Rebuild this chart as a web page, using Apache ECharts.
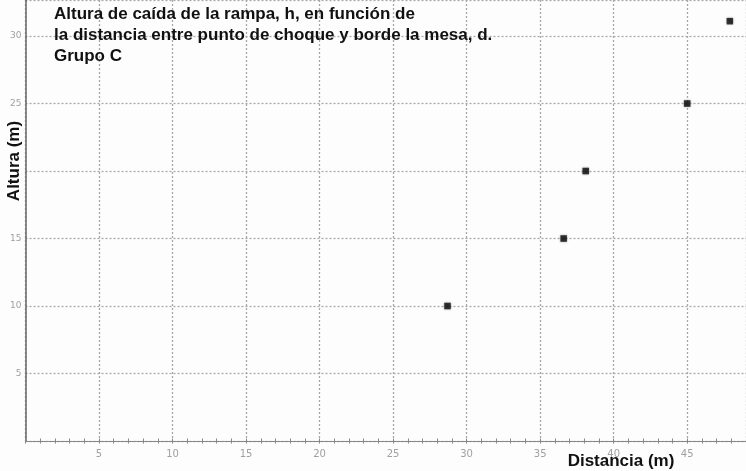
<!DOCTYPE html>
<html>
<head>
<meta charset="utf-8">
<script src="https://cdn.jsdelivr.net/npm/echarts@6/dist/echarts.min.js"></script>
<style>
html,body{margin:0;padding:0;background:#fdfdfd;}
#main{width:746px;height:471px;}
</style>
</head>
<body>
<div id="main"></div>
<script>
var distancia = [28.7, 36.6, 38.1, 45.0, 47.9];
var altura = [10, 15, 20, 25, 31.1];
var titleLines = [
  'Altura de caída de la rampa, h, en función de',
  'la distancia entre punto de choque y borde la mesa, d.',
  'Grupo C'
];
var xName = 'Distancia (m)';
var yName = 'Altura (m)';

var points = distancia.map(function (d, i) { return [d, altura[i]]; });

var chart = echarts.init(document.getElementById('main'));
chart.setOption({
  backgroundColor: '#fdfdfd',
  animation: false,
  title: {
    text: titleLines.join('\n'),
    left: 54, top: 4, padding: 0,
    textStyle: { fontFamily: 'Liberation Sans, Arial', fontWeight: 'bold', fontSize: 17, color: '#111', lineHeight: 21 }
  },
  grid: { left: 25.5, right: 0, top: 0, bottom: 30 },
  xAxis: [{
    type: 'value', min: 0, max: 49, interval: 5,
    axisLine: { onZero: true, lineStyle: { color: '#888', width: 1.2 } },
    axisTick: { show: true, length: 2.5, lineStyle: { color: '#888' } },
    minorTick: { show: true, splitNumber: 5, length: 2.5, lineStyle: { color: '#888' } },
    splitLine: { show: true, lineStyle: { color: '#a8a8a8', type: [2, 2], width: 1.3 } },
    axisLabel: {
      color: '#a0a0a0', fontSize: 10, fontFamily: 'DejaVu Sans', margin: 8,
      showMinLabel: false, showMaxLabel: false,
      formatter: function (v) { return (v > 0 && v % 5 === 0) ? String(v) : ''; }
    }
  }, {
    type: 'value', min: 0, max: 49, interval: 5, position: 'bottom',
    axisLine: { show: false, onZero: true },
    axisTick: { show: true, inside: true, length: 2.5, lineStyle: { color: '#888' } },
    minorTick: { show: true, splitNumber: 5, length: 2.5, lineStyle: { color: '#888' } },
    splitLine: { show: false },
    axisLabel: { show: false }
  }],
  yAxis: {
    type: 'value', min: 0, max: 32.67, interval: 5,
    axisLine: { show: true, onZero: true, lineStyle: { color: '#666', width: 1.5 } },
    axisTick: { show: false },
    splitLine: { show: true, lineStyle: { color: '#a8a8a8', type: [2, 2], width: 1.3 } },
    axisLabel: {
      color: '#a0a0a0', fontSize: 9, fontFamily: 'DejaVu Sans', margin: 4,
      showMinLabel: false, showMaxLabel: false,
      formatter: function (v) { return (v > 0 && v % 5 === 0 && v !== 20) ? String(v) : ''; }
    }
  },
  graphic: [
    { type: 'text', x: 621, y: 461, style: { text: xName, font: 'bold 17px "Liberation Sans", Arial', fill: '#111', textAlign: 'center', textVerticalAlign: 'middle' } },
    { type: 'text', x: 14.5, y: 161, rotation: Math.PI / 2, style: { text: yName, font: 'bold 17px "Liberation Sans", Arial', fill: '#111', textAlign: 'center', textVerticalAlign: 'middle' } }
  ],
  series: [{
    type: 'scatter',
    xAxisIndex: 0,
    data: points,
    symbol: 'rect',
    symbolSize: 6.5,
    itemStyle: { color: '#111', shadowBlur: 2, shadowColor: 'rgba(0,0,0,0.6)' }
  }]
});
</script>
</body>
</html>
